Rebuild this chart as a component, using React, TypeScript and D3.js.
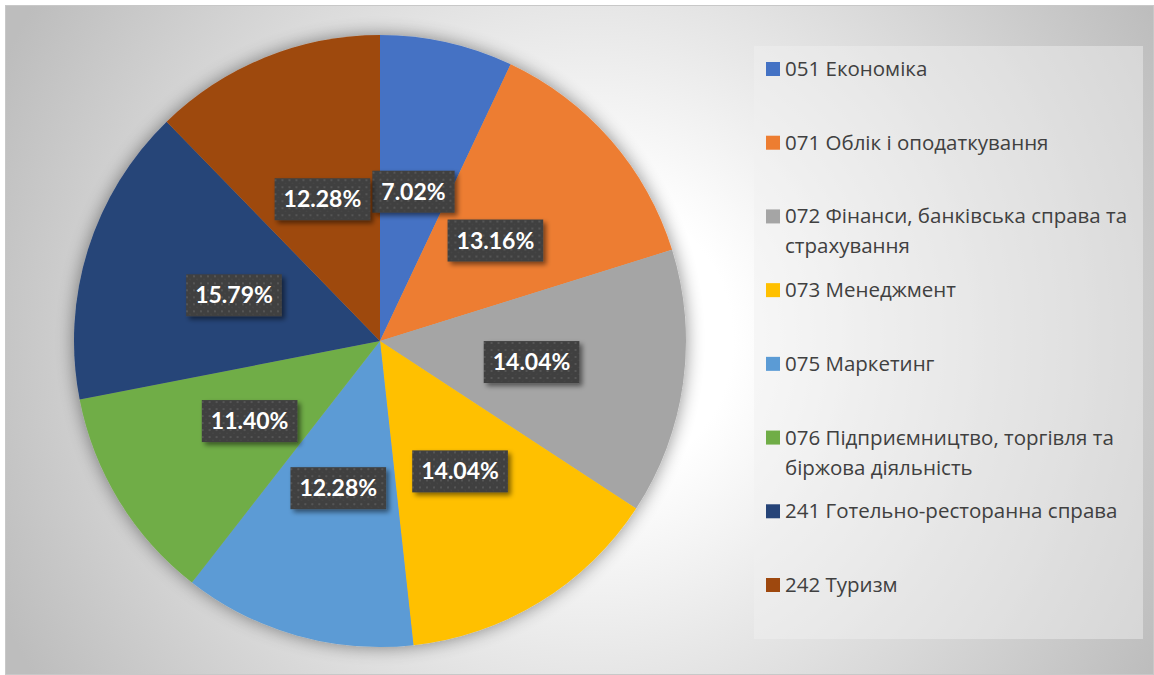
import React from 'react';
import * as d3 from 'd3';

const categories = [
  '051 Економіка',
  '071 Облік і оподаткування',
  '072 Фінанси, банківська справа та страхування',
  '073 Менеджмент',
  '075 Маркетинг',
  '076 Підприємництво, торгівля та біржова діяльність',
  '241 Готельно-ресторанна справа',
  '242 Туризм',
];
const legendLines = [
  ['051 Економіка'],
  ['071 Облік і оподаткування'],
  ['072 Фінанси, банківська справа та', 'страхування'],
  ['073 Менеджмент'],
  ['075 Маркетинг'],
  ['076 Підприємництво, торгівля та', 'біржова діяльність'],
  ['241 Готельно-ресторанна справа'],
  ['242 Туризм'],
];
const values = [7.02, 13.16, 14.04, 14.04, 12.28, 11.4, 15.79, 12.28];
const colors = ['#4472C4', '#ED7D31', '#A5A5A5', '#FFC000', '#5B9BD5', '#70AD47', '#264478', '#9E480E'];

const W = 1154;
const H = 675;
const CX = 380;
const CY = 341;
const R = 306;

const LABEL_FONT = 'bold 23px Lato, "Open Sans", sans-serif';
const LEGEND_FONT_FAMILY = '"Open Sans", "Noto Sans", sans-serif';

function measure(text: string, font: string): number {
  if (typeof document === 'undefined') return text.length * 12;
  const c = document.createElement('canvas');
  const ctx = c.getContext('2d');
  if (!ctx) return text.length * 12;
  ctx.font = font;
  return ctx.measureText(text).width;
}

export default function App() {
  const pie = d3.pie<number>().sort(null).value((d) => d);
  const arcs = pie(values);
  const arc = d3.arc<d3.PieArcDatum<number>>().innerRadius(0).outerRadius(R);
  const labelArc = d3.arc<d3.PieArcDatum<number>>().innerRadius(0).outerRadius(R);
  const fmt = (v: number) => v.toFixed(2) + '%';

  const legendY = d3.scalePoint<string>().domain(categories).range([69, 585]);

  return (
    <svg width={W} height={H} style={{ position: 'absolute', left: 0, top: 0, display: 'block' }}>
      <defs>
        <radialGradient id="bg" gradientUnits="userSpaceOnUse" cx={590} cy={340} r={650}>
          <stop offset="0" stopColor="#ffffff" />
          <stop offset="0.22" stopColor="#ffffff" />
          <stop offset="1" stopColor="#bdbdbd" />
        </radialGradient>
        <filter id="pieShadow" x="-20%" y="-20%" width="140%" height="140%">
          <feGaussianBlur in="SourceAlpha" stdDeviation="9" />
          <feOffset dx="0" dy="0" result="b" />
          <feComponentTransfer>
            <feFuncA type="linear" slope="0.45" />
          </feComponentTransfer>
          <feMerge>
            <feMergeNode />
            <feMergeNode in="SourceGraphic" />
          </feMerge>
        </filter>
        <filter id="lblShadow" x="-20%" y="-30%" width="150%" height="170%">
          <feGaussianBlur in="SourceAlpha" stdDeviation="2.5" />
          <feOffset dx="3" dy="3" />
          <feComponentTransfer>
            <feFuncA type="linear" slope="0.5" />
          </feComponentTransfer>
          <feMerge>
            <feMergeNode />
            <feMergeNode in="SourceGraphic" />
          </feMerge>
        </filter>
        <pattern id="dots" width="7" height="7" patternUnits="userSpaceOnUse">
          <rect width="7" height="7" fill="#404040" />
          <rect x="1" y="1" width="2" height="2" fill="#555555" />
          <rect x="4.5" y="4.5" width="1.2" height="1.2" fill="#4c4c4c" />
        </pattern>
      </defs>
      <rect x={0} y={0} width={W} height={H} fill="#ffffff" />
      <rect x={5.5} y={5.5} width={W - 6} height={H - 6} fill="url(#bg)" stroke="#c8c8c8" strokeWidth={1} />

      <rect x={754} y={46} width={389} height={593} fill="#f0f0f0" fillOpacity={0.47} />

      <g transform={`translate(${CX},${CY})`} filter="url(#pieShadow)">
        {arcs.map((a, i) => (
          <path key={i} d={arc(a) || ''} fill={colors[i]} />
        ))}
      </g>

      <g transform={`translate(${CX},${CY})`}>
        {arcs.map((a, i) => {
          const [x, y] = labelArc.centroid(a);
          const t = fmt(values[i]);
          const tw = measure(t, LABEL_FONT);
          const bw = tw + 18;
          const bh = 42;
          return (
            <g key={i} transform={`translate(${x},${y})`}>
              <rect x={-bw / 2} y={-bh / 2} width={bw} height={bh} fill="url(#dots)" filter="url(#lblShadow)" />
              <text
                x={0}
                y={8}
                textAnchor="middle"
                fill="#ffffff"
                style={{ font: LABEL_FONT }}
              >
                {t}
              </text>
            </g>
          );
        })}
      </g>

      <g>
        {categories.map((c, i) => {
          const cy = legendY(c) as number;
          return (
            <g key={c}>
              <rect x={766} y={cy - 7} width={14} height={14} fill={colors[i]} />
              {legendLines[i].map((ln, j) => (
                <text
                  key={j}
                  x={785}
                  y={cy + 7 + j * 30}
                  fill="#404040"
                  fontFamily={LEGEND_FONT_FAMILY}
                  fontSize={20.5}
                >
                  {ln}
                </text>
              ))}
            </g>
          );
        })}
      </g>
    </svg>
  );
}
